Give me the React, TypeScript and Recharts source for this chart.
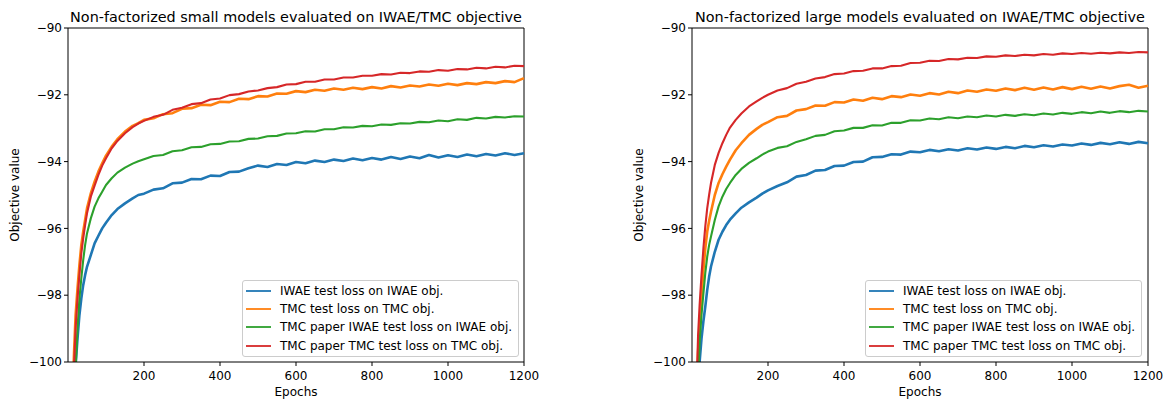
import React from "react";
import { LineChart, Line, XAxis, YAxis, ReferenceLine, Legend } from "recharts";

const FONT = '"DejaVu Sans", "Liberation Sans", sans-serif';

const EPOCHS = [
  8, 12, 16, 20, 25, 30, 35, 40, 45, 50, 60, 70, 80, 90, 100, 115, 130, 150, 170, 185,
  200, 225, 250, 275, 300, 325, 350, 375, 400, 425, 450, 475, 500, 525, 550, 575, 600,
  625, 650, 675, 700, 725, 750, 775, 800, 825, 850, 875, 900, 925, 950, 975, 1000,
  1025, 1050, 1075, 1100, 1125, 1150, 1175, 1200,
];

// small models
const SMALL_IWAE = [
  -106, -103, -101.3, -100.1, -99.3, -98.6, -98.1, -97.7, -97.4, -97.15, -96.8, -96.45, -96.22,
  -96.0, -95.83, -95.6, -95.42, -95.25, -95.1, -95.0,
  -94.96, -94.84, -94.8, -94.65, -94.63, -94.52, -94.53, -94.42, -94.43, -94.31, -94.3, -94.2,
  -94.12, -94.16, -94.07, -94.1, -94.01, -94.05, -93.97, -94.01, -93.94, -93.98, -93.91, -93.96,
  -93.89, -93.94, -93.86, -93.92, -93.85, -93.9, -93.8, -93.88, -93.81, -93.86, -93.79, -93.84,
  -93.77, -93.82, -93.75, -93.8, -93.75,
];
const SMALL_TMC = [
  -102.5, -101.0, -99.7, -98.6, -97.8, -97.1, -96.5, -96.1, -95.75, -95.4, -94.95, -94.6, -94.3,
  -94.05, -93.82, -93.55, -93.33, -93.1, -92.93, -92.85,
  -92.75, -92.7, -92.58, -92.55, -92.42, -92.4, -92.3, -92.31, -92.21, -92.22, -92.12, -92.13,
  -92.04, -92.05, -91.96, -91.97, -91.89, -91.92, -91.85, -91.88, -91.81, -91.85, -91.79, -91.83,
  -91.77, -91.81, -91.74, -91.78, -91.72, -91.75, -91.69, -91.73, -91.67, -91.71, -91.65, -91.68,
  -91.62, -91.65, -91.59, -91.62, -91.5,
];
const SMALL_PAPER_IWAE = [
  -106, -103, -101.5, -100.2, -99.0, -98.1, -97.5, -96.95, -96.5, -96.15, -95.7, -95.35, -95.1,
  -94.9, -94.7, -94.5, -94.33, -94.18, -94.06, -93.99,
  -93.93, -93.83, -93.8, -93.69, -93.66, -93.57, -93.56, -93.48, -93.47, -93.4, -93.39, -93.32,
  -93.31, -93.24, -93.23, -93.16, -93.15, -93.09, -93.1, -93.03, -93.03, -92.97, -92.98, -92.93,
  -92.94, -92.89, -92.9, -92.85, -92.86, -92.81, -92.82, -92.77, -92.79, -92.73, -92.75, -92.69,
  -92.71, -92.66, -92.68, -92.64, -92.65,
];
const SMALL_PAPER_TMC = [
  -103, -101.5, -100.1, -99.0, -98.1, -97.4, -96.75, -96.3, -95.9, -95.55, -95.05, -94.72, -94.4,
  -94.12, -93.9, -93.6, -93.38, -93.15, -92.97, -92.86,
  -92.78, -92.66, -92.6, -92.45, -92.39, -92.28, -92.25, -92.14, -92.11, -92.01, -91.98, -91.9,
  -91.87, -91.8, -91.77, -91.69, -91.68, -91.61, -91.61, -91.54, -91.54, -91.48, -91.48, -91.43,
  -91.43, -91.38, -91.39, -91.34, -91.35, -91.3, -91.31, -91.26, -91.28, -91.23, -91.24, -91.19,
  -91.21, -91.16, -91.18, -91.13, -91.14,
];

// large models
const LARGE_IWAE = [
  -107, -103, -101, -100.0, -99.3, -98.78, -98.34, -97.85, -97.45, -97.14, -96.7, -96.34, -96.1,
  -95.9, -95.74, -95.55, -95.38, -95.22, -95.08, -94.96,
  -94.86, -94.73, -94.62, -94.45, -94.4, -94.27, -94.25, -94.13, -94.12, -94.01, -94.0, -93.87,
  -93.86, -93.78, -93.79, -93.7, -93.72, -93.65, -93.69, -93.63, -93.67, -93.6, -93.64, -93.58,
  -93.62, -93.56, -93.6, -93.53, -93.57, -93.51, -93.55, -93.49, -93.52, -93.46, -93.5, -93.44,
  -93.48, -93.42, -93.47, -93.41, -93.45,
];
const LARGE_TMC = [
  -105, -101.2, -99.7, -98.9, -98.1, -97.25, -96.6, -96.1, -95.78, -95.5, -95.0, -94.64, -94.38,
  -94.15, -93.94, -93.66, -93.45, -93.2, -93.02, -92.9,
  -92.82, -92.67, -92.63, -92.47, -92.43, -92.32, -92.33, -92.22, -92.23, -92.14, -92.18, -92.09,
  -92.13, -92.04, -92.07, -91.99, -92.03, -91.95, -91.99, -91.91, -91.95, -91.87, -91.91, -91.84,
  -91.88, -91.81, -91.86, -91.79, -91.85, -91.78, -91.84, -91.77, -91.83, -91.76, -91.82, -91.75,
  -91.81, -91.74, -91.7, -91.79, -91.73,
];
const LARGE_PAPER_IWAE = [
  -106, -102, -100.6, -99.4, -98.6, -97.95, -97.33, -96.85, -96.5, -96.24, -95.75, -95.34, -95.05,
  -94.82, -94.64, -94.4, -94.22, -94.04, -93.9, -93.79,
  -93.7, -93.59, -93.54, -93.41, -93.33, -93.23, -93.2, -93.09, -93.07, -92.99, -92.99, -92.91,
  -92.92, -92.84, -92.84, -92.76, -92.77, -92.71, -92.73, -92.67, -92.7, -92.65, -92.67, -92.62,
  -92.65, -92.6, -92.63, -92.58, -92.61, -92.56, -92.59, -92.54, -92.57, -92.52, -92.55, -92.5,
  -92.54, -92.49, -92.52, -92.48, -92.5,
];
const LARGE_PAPER_TMC = [
  -104, -100.8, -99.2, -98.3, -97.4, -96.6, -95.94, -95.4, -95.0, -94.64, -94.1, -93.74, -93.45,
  -93.2, -92.98, -92.75, -92.56, -92.35, -92.2, -92.09,
  -92.0, -91.87, -91.8, -91.67, -91.61, -91.51, -91.47, -91.38, -91.36, -91.29, -91.28, -91.21,
  -91.21, -91.14, -91.13, -91.05, -91.04, -90.98, -90.99, -90.93, -90.94, -90.89, -90.9, -90.85,
  -90.86, -90.82, -90.84, -90.8, -90.82, -90.78, -90.8, -90.76, -90.78, -90.75, -90.77, -90.74,
  -90.76, -90.73, -90.75, -90.72, -90.73,
];

// noisier runs get a wider stroke to read like the original noise band
const SERIES = [
  { key: "iwae", name: "IWAE test loss on IWAE obj.", color: "#1f77b4", width: 2.6 },
  { key: "tmc", name: "TMC test loss on TMC obj.", color: "#ff7f0e", width: 2.6 },
  { key: "paperIwae", name: "TMC paper IWAE test loss on IWAE obj.", color: "#2ca02c", width: 2.1 },
  { key: "paperTmc", name: "TMC paper TMC test loss on TMC obj.", color: "#d62728", width: 2.1 },
];

const X_TICKS = [200, 400, 600, 800, 1000, 1200];
const Y_TICKS = [-100, -98, -96, -94, -92, -90];

const buildRows = (iwae: number[], tmc: number[], paperIwae: number[], paperTmc: number[]) =>
  EPOCHS.map((epoch, i) => ({
    epoch,
    iwae: iwae[i],
    tmc: tmc[i],
    paperIwae: paperIwae[i],
    paperTmc: paperTmc[i],
  }));

const smallRows = buildRows(SMALL_IWAE, SMALL_TMC, SMALL_PAPER_IWAE, SMALL_PAPER_TMC);
const largeRows = buildRows(LARGE_IWAE, LARGE_TMC, LARGE_PAPER_IWAE, LARGE_PAPER_TMC);

const minus = (v: number) => String(v).replace("-", "\u2212");

const PLOT_W = 456;
const tickStyle = { fill: "#000", fontSize: 12, fontFamily: FONT };

function LegendBox() {
  return (
    <div
      style={{
        width: 277,
        boxSizing: "border-box",
        border: "1px solid #cccccc",
        borderRadius: 3,
        background: "rgba(255,255,255,0.8)",
        padding: "1px 0",
        fontFamily: FONT,
        fontSize: 12,
        color: "#000",
      }}
    >
      {SERIES.map((s) => (
        <div key={s.key} style={{ display: "flex", alignItems: "center", height: 18.2 }}>
          <svg width={37} height={4} style={{ flex: "none" }}>
            <line x1={3} x2={28} y1={2} y2={2} stroke={s.color} strokeWidth={1.8} />
          </svg>
          <span style={{ whiteSpace: "nowrap" }}>{s.name}</span>
        </div>
      ))}
    </div>
  );
}

interface PanelProps {
  title: string;
  rows: ReturnType<typeof buildRows>;
  left: number;
  width: number;
  yAxisWidth: number;
  legendLeft: number;
}

function Panel({ title, rows, left, width, yAxisWidth, legendLeft }: PanelProps) {
  const rightMargin = width - yAxisWidth - PLOT_W;
  return (
    <div style={{ position: "absolute", left, top: 0, width, height: 401 }}>
      <div
        style={{
          position: "absolute",
          left: yAxisWidth - 40,
          width: PLOT_W + 80,
          top: 9.5,
          textAlign: "center",
          fontFamily: FONT,
          fontSize: 14.4,
          lineHeight: "14.4px",
          whiteSpace: "nowrap",
          color: "#000",
        }}
      >
        {title}
      </div>
      <LineChart
        width={width}
        height={401}
        data={rows}
        margin={{ top: 28, right: rightMargin, bottom: 0, left: 0 }}
      >
        <XAxis
          dataKey="epoch"
          type="number"
          domain={[0, 1200]}
          ticks={X_TICKS}
          height={39}
          tickSize={4}
          tickMargin={5}
          stroke="#000"
          tick={tickStyle}
        />
        <YAxis
          type="number"
          domain={[-100, -90]}
          ticks={Y_TICKS}
          allowDataOverflow
          width={yAxisWidth}
          tickSize={4}
          tickMargin={2}
          stroke="#000"
          tick={tickStyle}
          tickFormatter={minus}
        />
        <ReferenceLine y={-90} stroke="#000" />
        <ReferenceLine x={1200} stroke="#000" />
        {SERIES.map((s) => (
          <Line
            key={s.key}
            type="linear"
            dataKey={s.key}
            name={s.name}
            stroke={s.color}
            strokeWidth={s.width}
            strokeLinejoin="bevel"
            dot={false}
            isAnimationActive={false}
          />
        ))}
        <Legend
          layout="horizontal"
          verticalAlign="middle"
          align="center"
          content={() => <LegendBox />}
          wrapperStyle={{ left: legendLeft, top: 280, width: 277 }}
        />
      </LineChart>
      <div
        style={{
          position: "absolute",
          left: yAxisWidth,
          width: PLOT_W,
          top: 386,
          textAlign: "center",
          fontFamily: FONT,
          fontSize: 12,
          lineHeight: "12px",
          color: "#000",
        }}
      >
        Epochs
      </div>
      <div
        style={{
          position: "absolute",
          left: yAxisWidth - 53.35 - 60,
          top: 189,
          width: 120,
          height: 12,
          textAlign: "center",
          fontFamily: FONT,
          fontSize: 12,
          lineHeight: "12px",
          whiteSpace: "nowrap",
          color: "#000",
          transform: "rotate(-90deg)",
        }}
      >
        Objective value
      </div>
    </div>
  );
}

export default function App() {
  return (
    <div
      style={{
        position: "fixed",
        left: 0,
        top: 0,
        width: 1166,
        height: 401,
        background: "#fff",
        overflow: "hidden",
      }}
    >
      <Panel
        title="Non-factorized small models evaluated on IWAE/TMC objective"
        rows={smallRows}
        left={0}
        width={560}
        yAxisWidth={68}
        legendLeft={242}
      />
      <Panel
        title="Non-factorized large models evaluated on IWAE/TMC objective"
        rows={largeRows}
        left={580}
        width={586}
        yAxisWidth={112}
        legendLeft={285}
      />
    </div>
  );
}
